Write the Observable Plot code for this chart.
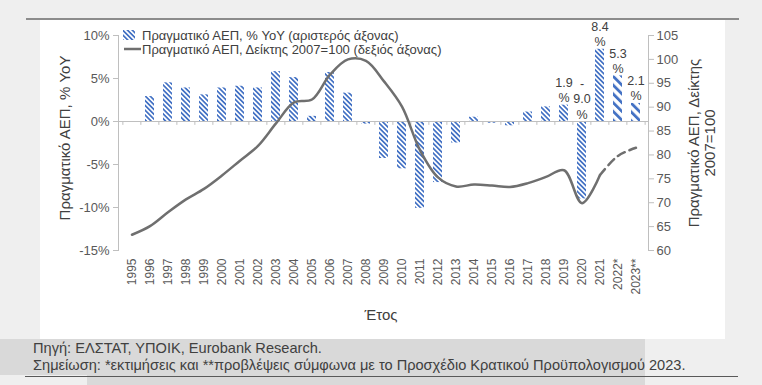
<!DOCTYPE html>
<html><head><meta charset="utf-8">
<script src="https://cdn.jsdelivr.net/npm/d3@7"></script>
<script src="https://cdn.jsdelivr.net/npm/@observablehq/plot@0.6"></script>
<style>
html,body{margin:0;padding:0;}
body{width:762px;height:385px;background:#efefef;position:relative;overflow:hidden;font-family:"Liberation Sans",Arial,sans-serif;}
#topline{position:absolute;left:26px;top:18px;width:713px;height:2px;background:#8c8c8c;}
#panel{position:absolute;left:40px;top:20px;width:685px;height:319px;background:#fff;}
#chart{position:absolute;left:0;top:0;}
#box1{position:absolute;left:0;top:339px;width:645px;height:36px;background:#d9d9d9;}
#box2{position:absolute;left:87px;top:339px;width:558px;height:46px;background:#d9d9d9;}
#foot{position:absolute;left:33px;top:340px;font-size:14.6px;color:#404040;line-height:17px;white-space:nowrap;}
#uline{position:absolute;left:25px;top:376px;width:713px;height:1px;background:#595959;}
</style></head>
<body>
<div id="topline"></div>
<div id="panel"></div>
<div id="box1"></div><div id="box2"></div>
<div id="chart"></div>
<div id="foot">Πηγή: ΕΛΣΤΑΤ, ΥΠΟΙΚ, Eurobank Research.<br>Σημείωση: *εκτιμήσεις και **προβλέψεις σύμφωνα με το Προσχέδιο Κρατικού Προϋπολογισμού 2023.</div>
<div id="uline"></div>
<script>
const years = ["1995","1996","1997","1998","1999","2000","2001","2002","2003","2004","2005","2006","2007","2008","2009","2010","2011","2012","2013","2014","2015","2016","2017","2018","2019","2020","2021","2022*","2023**"];
const gdpYoY = [null,2.9,4.5,3.9,3.1,3.9,4.1,3.9,5.8,5.1,0.6,5.7,3.3,-0.3,-4.3,-5.5,-10.1,-7.1,-2.5,0.5,-0.2,-0.5,1.1,1.7,1.9,-9.0,8.4,5.3,2.1];
const gdpIndex = [63.3,65.1,68.0,70.7,72.9,75.7,78.8,81.9,86.6,91.0,91.6,96.8,100.0,99.7,95.4,90.1,81.0,75.3,73.4,73.8,73.6,73.3,74.1,75.4,76.8,69.9,75.8,79.8,81.5];
const forecastYears = ["2022*","2023**"];
const dashedFrom = "2021";
const labelYears = ["2019","2020","2021","2022*","2023**"];
const labelTexts = ["1.9\n%","-\n9.0\n%","8.4\n%","5.3\n%","2.1\n%"];
const leftTicks = [-15,-10,-5,0,5,10];
const rightTicks = [60,65,70,75,80,85,90,95,100,105];
const legendBars = "Πραγματικό ΑΕΠ, % YoY (αριστερός άξονας)";
const legendLine = "Πραγματικό ΑΕΠ, Δείκτης 2007=100 (δεξιός άξονας)";
const leftTitle = "Πραγματικό ΑΕΠ, % YoY";
const rightTitle = ["Πραγματικό ΑΕΠ, Δείκτης","2007=100"];
const xTitle = "Έτος";

const L = [-15,10], R = [60,105];
const toLeft = v => L[0] + (v - R[0]) * (L[1]-L[0]) / (R[1]-R[0]);
const fromLeft = d => Math.round(R[0] + (d - L[0]) * (R[1]-R[0]) / (L[1]-L[0]));

const rows = years.map((y,i) => ({year:y, yoy:gdpYoY[i], idx:gdpIndex[i]}));
const barsA = rows.filter(d => d.yoy != null && !forecastYears.includes(d.year));
const barsF = rows.filter(d => d.yoy != null && forecastYears.includes(d.year));
const di = years.indexOf(dashedFrom);
const solid = rows.slice(0, di+1), dashed = rows.slice(di);
const labels = labelYears.map((y,i) => ({year:y, t:labelTexts[i], v:gdpYoY[years.indexOf(y)]}));

const W = 762, H = 340, mL = 118, mR = 114;
const step = (W - mL - mR) / years.length;
const axisGray = "#bfbfbf", textGray = "#595959";
const font = "Liberation Sans, Arial, sans-serif";

const plot = Plot.plot({
  width: W, height: H, marginLeft: mL, marginRight: mR, marginTop: 35, marginBottom: 90,
  style: {background: "transparent", fontFamily: font, fontSize: "12px", color: textGray, overflow: "visible"},
  x: {domain: years, paddingInner: 0.5, paddingOuter: 0.25, label: null},
  y: {domain: L, label: null},
  marks: [
    Plot.barY(barsA, {x: "year", y: "yoy", fill: "url(#hA)"}),
    Plot.barY(barsF, {x: "year", y: "yoy", fill: "url(#hF)"}),
    Plot.ruleY([0], {stroke: axisGray}),
    Plot.ruleX(years, {x: d => d, y1: 0, y2: -0.45, dx: -step/2, stroke: axisGray}),
    Plot.ruleX(years.slice(-1), {x: d => d, y1: 0, y2: -0.45, dx: step/2, stroke: axisGray}),
    Plot.lineY(solid, {x: "year", y: d => toLeft(d.idx), stroke: "#6f6f6f", strokeWidth: 2.5, curve: "catmull-rom"}),
    Plot.lineY(dashed, {x: "year", y: d => toLeft(d.idx), stroke: "#6f6f6f", strokeWidth: 2.5, strokeDasharray: "8,5", curve: "catmull-rom"}),
    Plot.text(labels, {x: "year", y: d => Math.max(d.v, 0), text: "t", lineAnchor: "bottom", dy: -3, fontSize: 12.5, lineHeight: 1.22, fill: "#404040"}),
    Plot.axisY(leftTicks, {anchor: "left", tickFormat: d => d + "%", tickSize: 5, tickPadding: 4, fontSize: 13, stroke: axisGray, fill: textGray, label: null}),
    Plot.axisY(rightTicks.map(toLeft), {anchor: "right", tickFormat: fromLeft, tickSize: 5, tickPadding: 3, fontSize: 13, stroke: axisGray, fill: textGray, label: null}),
    Plot.axisX({anchor: "bottom", tickRotate: -90, tickSize: 0, tickPadding: 8, fontSize: 12, fill: textGray, label: null}),
    Plot.frame({anchor: "left", stroke: axisGray}),
    Plot.frame({anchor: "right", stroke: axisGray})
  ]
});
document.getElementById("chart").appendChild(plot);

const svg = d3.select(plot);
const defs = svg.insert("defs", ":first-child");
function hatch(id, period, stripe) {
  const p = defs.append("pattern").attr("id", id).attr("patternUnits", "userSpaceOnUse")
    .attr("width", period).attr("height", period).attr("patternTransform", "rotate(-45)");
  p.append("rect").attr("width", period).attr("height", period).attr("fill", "#fff");
  p.append("rect").attr("width", stripe).attr("height", period).attr("fill", "#4472c4");
}
hatch("hA", 3.4, 1.7);
hatch("hF", 6.2, 2.8);

const g = svg.append("g").attr("font-family", font).attr("fill", "#404040").attr("text-anchor", "start");
// legend
g.append("rect").attr("x", 123).attr("y", 30).attr("width", 12).attr("height", 10).attr("fill", "url(#hA)");
g.append("text").attr("x", 142).attr("y", 39.5).attr("font-size", 13).text(legendBars);
g.append("line").attr("x1", 124).attr("x2", 141).attr("y1", 49).attr("y2", 49).attr("stroke", "#6f6f6f").attr("stroke-width", 2.5);
g.append("text").attr("x", 142).attr("y", 54).attr("font-size", 13).text(legendLine);
// axis titles
g.append("text").attr("transform", "translate(64,138) rotate(-90)").attr("text-anchor", "middle")
  .attr("dominant-baseline", "central").attr("font-size", 15).text(leftTitle);
rightTitle.forEach((t, i) => {
  g.append("text").attr("transform", `translate(${693 + i*16},143) rotate(-90)`).attr("text-anchor", "middle")
    .attr("dominant-baseline", "central").attr("font-size", 15).text(t);
});
g.append("text").attr("x", 381).attr("y", 320).attr("text-anchor", "middle").attr("font-size", 15).text(xTitle);
</script>
</body></html>
